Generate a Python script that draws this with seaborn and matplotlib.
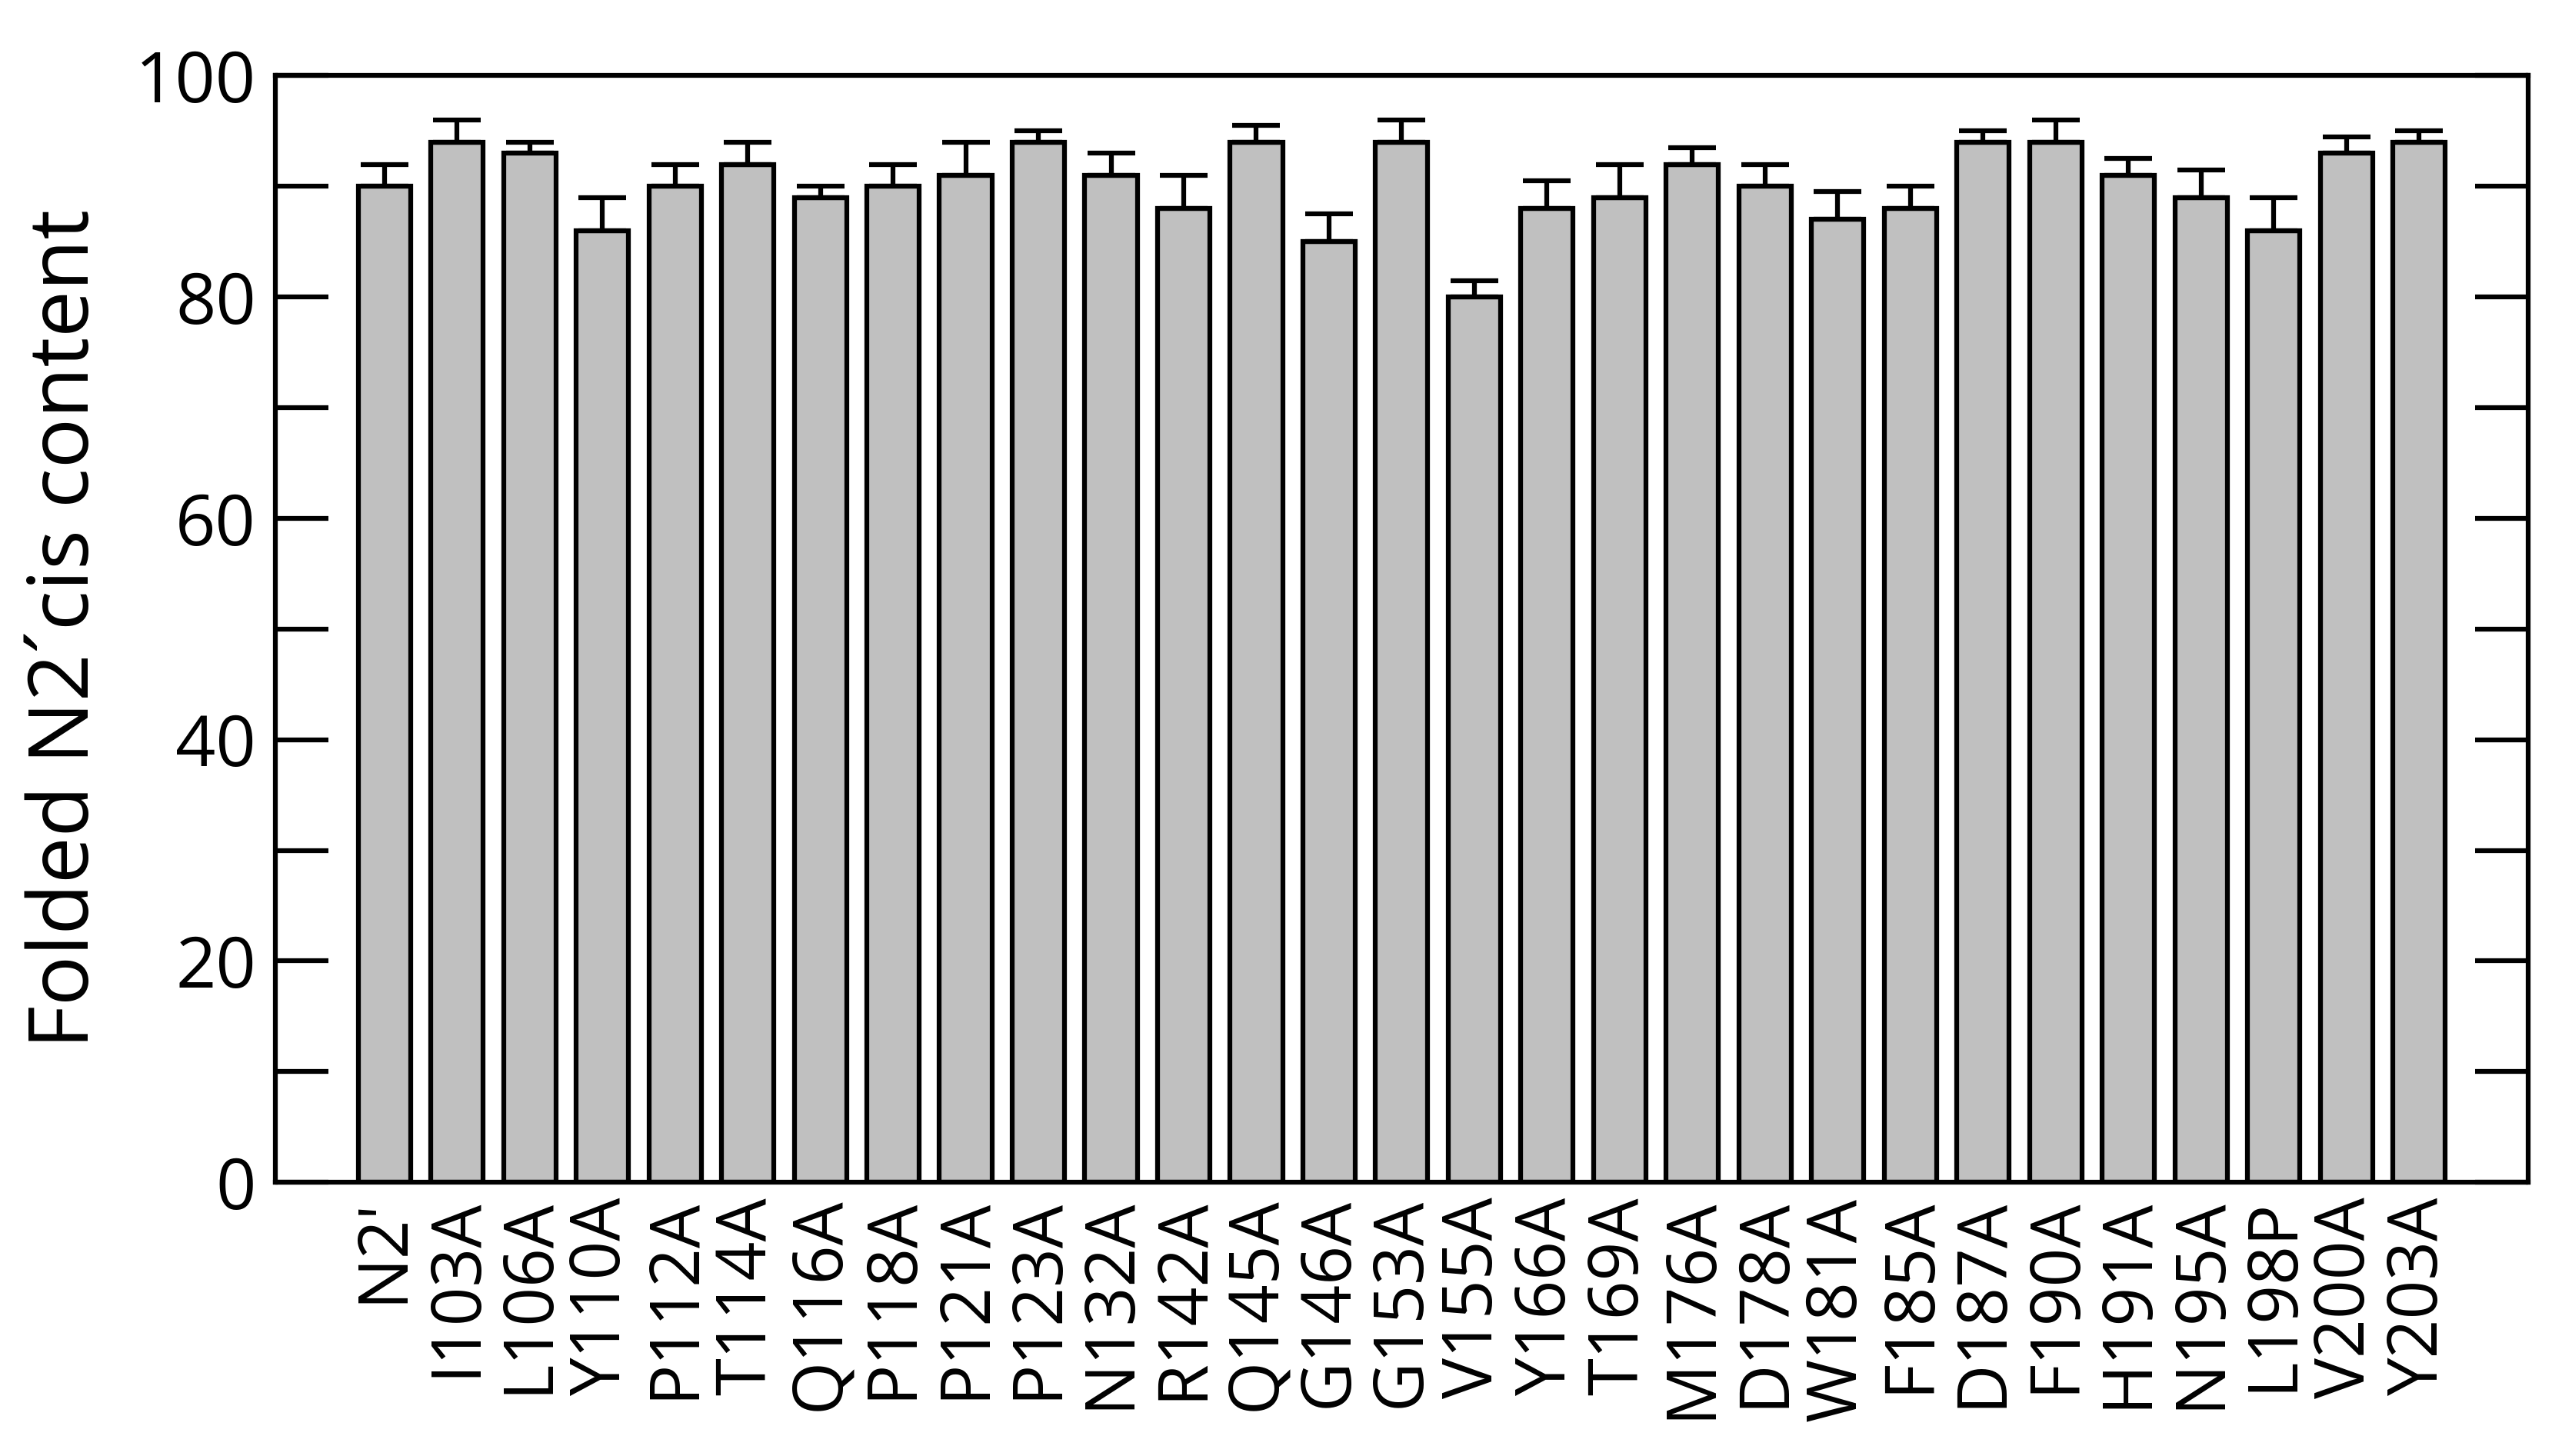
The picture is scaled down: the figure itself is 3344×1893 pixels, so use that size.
import numpy as np
import pandas as pd
import matplotlib
matplotlib.use('Agg')
import matplotlib.pyplot as plt
from matplotlib.ticker import MultipleLocator
import seaborn as sns

# data
mutants = ["N2'", 'I103A', 'L106A', 'Y110A', 'P112A', 'T114A', 'Q116A', 'P118A',
           'P121A', 'P123A', 'N132A', 'R142A', 'Q145A', 'G146A', 'G153A', 'V155A',
           'Y166A', 'T169A', 'M176A', 'D178A', 'W181A', 'F185A', 'D187A', 'F190A',
           'H191A', 'N195A', 'L198P', 'V200A', 'Y203A']
cis_content = [90, 94, 93, 86, 90, 92, 89, 90, 91, 94, 91, 88, 94, 85, 94, 80,
               88, 89, 92, 90, 87, 88, 94, 94, 91, 89, 86, 93, 94]
err_top = [92, 96, 94, 89, 92, 94, 90, 92, 94, 95, 93, 91, 95.5, 87.5, 96, 81.5,
           90.5, 92, 93.5, 92, 89.5, 90, 95, 96, 92.5, 91.5, 89, 94.5, 95]

df = pd.DataFrame({'mutant': mutants, 'cis': cis_content})
errors = np.array(err_top) - np.array(cis_content)

sns.set_style('ticks')
plt.rcParams['font.family'] = ['Open Sans', 'DejaVu Sans']
plt.rcParams['text.color'] = 'black'
plt.rcParams['axes.labelcolor'] = 'black'
plt.rcParams['xtick.color'] = 'black'
plt.rcParams['ytick.color'] = 'black'
plt.rcParams['axes.edgecolor'] = 'black'

fig = plt.figure(figsize=(33.44, 18.93), dpi=100)
ax = fig.add_axes([0.107, 0.188, 0.876, 0.76])
lw = 4.5

sns.barplot(data=df, x='mutant', y='cis', color='#c0c0c0', edgecolor='black',
            linewidth=lw, width=0.72, saturation=1, errorbar=None, ax=ax)
ax.errorbar(np.arange(len(mutants)), df['cis'], yerr=[np.zeros(len(errors)), errors],
            fmt='none', ecolor='black', elinewidth=lw, capsize=22, capthick=lw)

ax.set_xlim(-1.5, len(mutants) - 0.5 + 1.0)
ax.set_ylim(0, 100)
ax.yaxis.set_major_locator(MultipleLocator(20))
ax.yaxis.set_minor_locator(MultipleLocator(10))
ax.tick_params(axis='y', which='both', direction='in', left=True, right=True,
               width=lw, length=50, labelsize=66, pad=18)
ax.tick_params(axis='x', length=0, labelsize=64, rotation=90, pad=14)
for s in ax.spines.values():
    s.set_linewidth(lw)
ax.set_xlabel('')
ax.set_ylabel('Folded N2\u00b4cis content', fontsize=78, labelpad=25)

plt.savefig('out.png', dpi=100)
